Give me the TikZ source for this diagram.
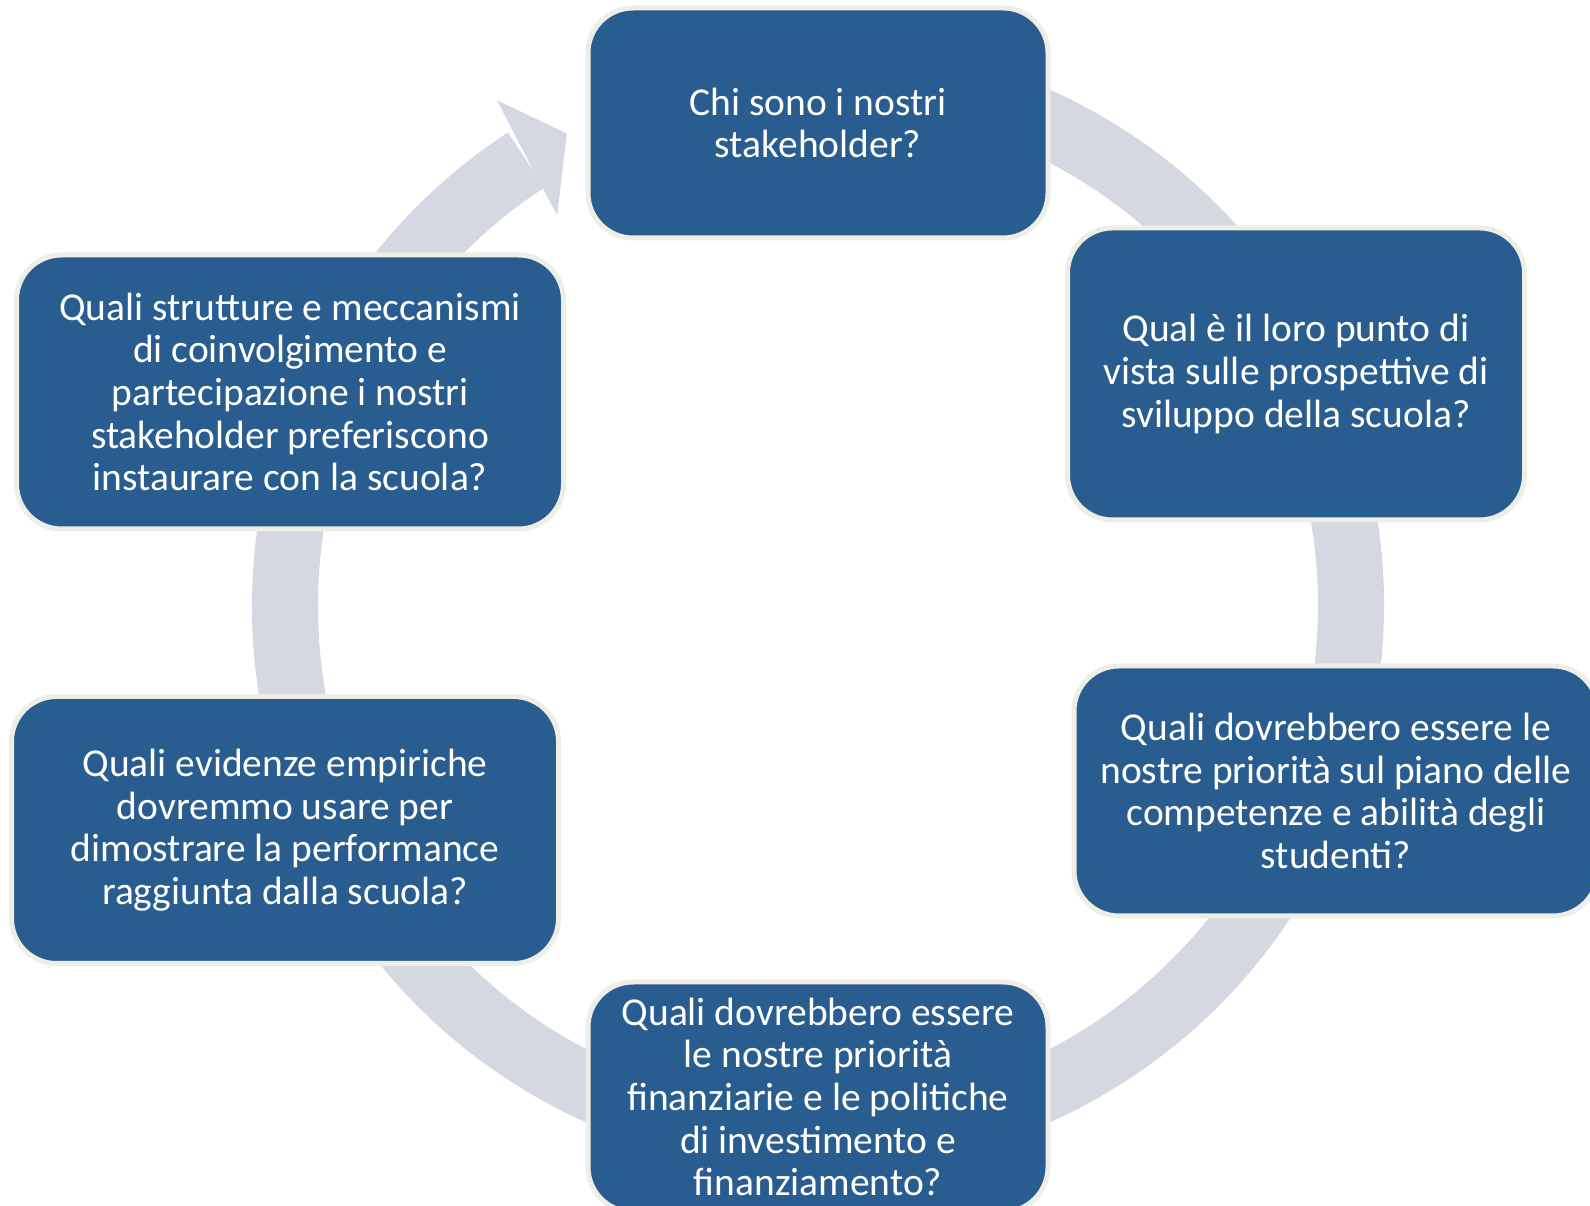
\documentclass[tikz,border=0pt]{standalone}
\usepackage{fontspec}
\setmainfont{Carlito}
\usetikzlibrary{calc}
\definecolor{boxblue}{HTML}{295D8F}
\definecolor{boxrim}{HTML}{EEEEE6}
\definecolor{ringgray}{HTML}{D5D8E0}
\begin{document}
\begin{tikzpicture}[x=1pt,y=1pt,
  qbox/.style={draw=boxrim, line width=5pt, fill=boxblue, rounded corners=45pt,
    text=white, align=center, inner sep=0pt,
    font=\fontsize{39.5}{42.6}\selectfont},
]
\clip (0,0) rectangle (1590,1205);
\fill[white] (0,0) rectangle (1590,1205);

% cycle ring with its arrowhead
\coordinate (c) at (818,599);
\draw[ringgray, line width=66pt]
  ($(c)+(123.2:533)$) arc[start angle=123.2, end angle=440, radius=533];
\fill[ringgray]
  ($(c)+(122.7:567)$) -- ($(c)+(122.4:599)$) -- ($(c)+(118:535)$)
  -- ($(c)+(123.7:470)$) -- ($(c)+(123.4:499)$) -- cycle;

% question boxes
\node[qbox, minimum width=460pt, minimum height=230pt] (n1) at (818,1082)
  {Chi sono i nostri\\stakeholder?};
\node[qbox, minimum width=457pt, minimum height=292pt] (n2) at (1296,831)
  {Qual è il loro punto di\\vista sulle prospettive di\\sviluppo della scuola?};
\node[qbox, minimum width=524pt, minimum height=250pt] (n3) at (1336,414)
  {Quali dovrebbero essere le\\nostre priorità sul piano delle\\competenze e abilità degli\\studenti?};
\node[qbox, minimum width=460pt, minimum height=230pt] (n4) at (818,108)
  {Quali dovrebbero essere\\le nostre priorità\\finanziarie e le politiche\\di investimento e\\finanziamento?};
\node[qbox, minimum width=547pt, minimum height=267pt] (n5) at (285,375)
  {Quali evidenze empiriche\\dovremmo usare per\\dimostrare la performance\\raggiunta dalla scuola?};
\node[qbox, minimum width=547pt, minimum height=274pt] (n6) at (290,813)
  {Quali strutture e meccanismi\\di coinvolgimento e\\partecipazione i nostri\\stakeholder preferiscono\\instaurare con la scuola?};
\end{tikzpicture}
\end{document}
